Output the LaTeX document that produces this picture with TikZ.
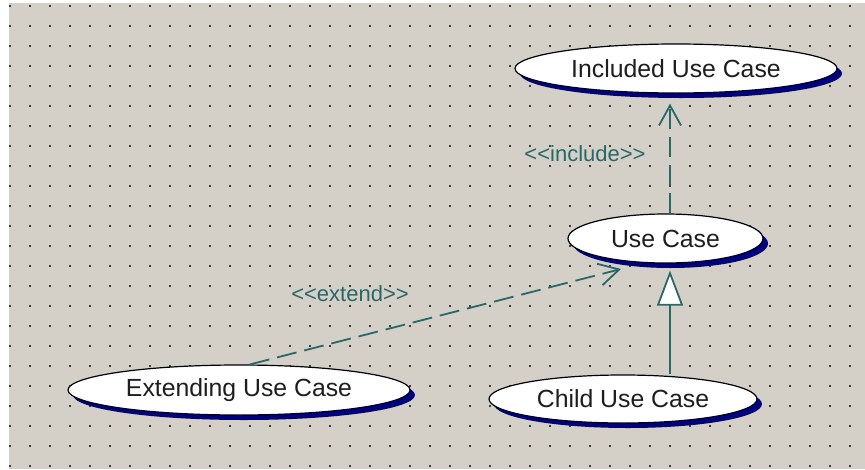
\documentclass[tikz,border=0pt]{standalone}
\usepackage{fontspec}
\setmainfont{Liberation Sans}
\usetikzlibrary{shapes.geometric,arrows.meta,shadows,calc}
\definecolor{canvas}{RGB}{212,208,200}
\definecolor{griddot}{RGB}{60,60,60}
\definecolor{shade}{RGB}{0,0,128}
\definecolor{link}{RGB}{40,104,104}
\definecolor{ink}{RGB}{30,30,30}
% two separate angle brackets, kept apart from the guillemet ligature
\newcommand{\stlt}{<\kern0pt<\kern0pt}
\newcommand{\stgt}{\kern0pt>\kern0pt>}

\begin{document}
\begin{tikzpicture}[x=1pt,y=-1pt,
  usecase/.style={ellipse, draw=black, fill=white, line width=1.2pt, inner sep=0pt,
    text=ink, font=\fontsize{24.8}{28}\selectfont,
    general shadow={fill=shade, shadow xshift=5pt, shadow yshift=-5pt}},
  lbl/.style={text=link, font=\fontsize{22}{26}\selectfont, inner sep=0pt},
  dep/.style={draw=link, line width=1.8pt, dash pattern=on 20pt off 8pt,
    -{Straight Barb[length=20pt,width=22pt]}},
  gen/.style={draw=link, line width=1.8pt,
    -{Triangle[length=35pt,width=26pt,fill=white]}}]
\useasboundingbox (0,0) rectangle (865,469);
\fill[white] (0,0) rectangle (865,469);
\fill[canvas] (9,3) rectangle (865,469);
% snap grid
\foreach \i in {0,...,42}
  \foreach \j in {0,...,23}
    \fill[griddot] ({8.8+20*\i},{4.5+20*\j}) rectangle ++(2.4,2.4);

% use cases
\node[usecase, minimum width=322pt, minimum height=49pt] (incl) at (676,68.5) {Included Use Case};
\node[usecase, minimum width=195pt, minimum height=49pt] (uc) at (665.5,238.5) {Use Case};
\node[usecase, minimum width=342pt, minimum height=50pt] (ext) at (239,390) {Extending Use Case};
\node[usecase, minimum width=268pt, minimum height=48pt] (child) at (623,399) {Child Use Case};

\coordinate (axis) at (670,0);

% relations
\draw[dep] (uc.north -| axis) -- ($(incl.south -| axis)+(0,10)$);
\draw[gen] (child.north -| axis) -- ($(uc.south -| axis)+(0,7)$);
\draw[dep] ($(ext.north)+(11,0)$) -- ($(uc.center)+(-44.5,30.5)$);

% stereotypes
\node[lbl] (inclbl) at (585,154) {\stlt include\stgt};
\node[lbl] (extlbl) at (350,294) {\stlt extend\stgt};
\end{tikzpicture}
\end{document}
